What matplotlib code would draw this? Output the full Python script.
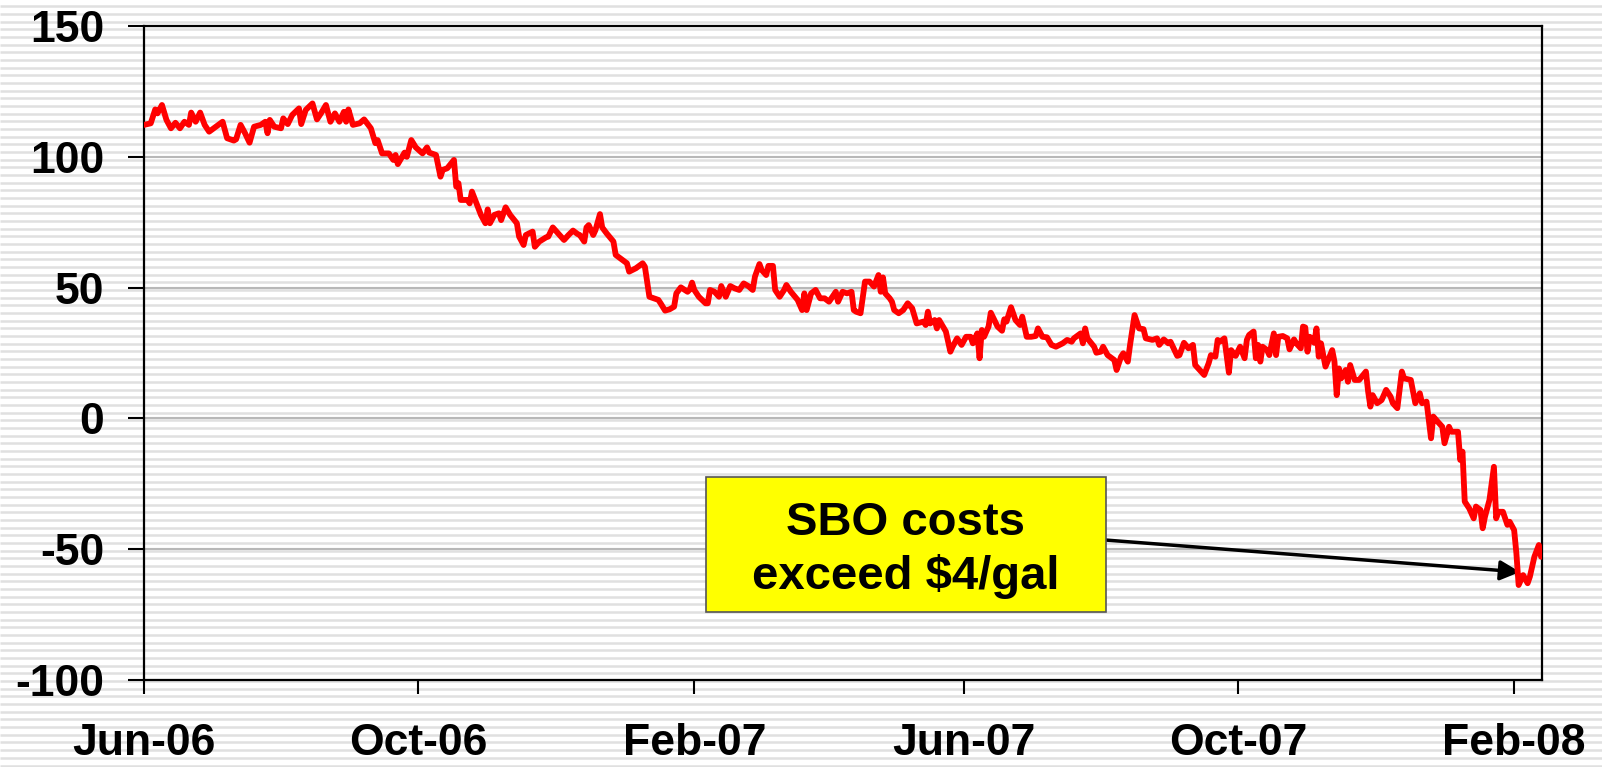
import numpy as np
import matplotlib
matplotlib.use('Agg')
from matplotlib import pyplot as plt
import matplotlib.dates as mdates
from matplotlib.patches import Rectangle

# days since 1 Jun 2006, spread value
days = [0, 3, 5, 6, 8, 10, 12, 14, 16, 18, 20, 21, 23, 25, 27, 29, 32, 35, 37, 40,
        41, 43, 45, 47, 49, 52, 54, 55, 56, 58, 61, 62, 64, 66, 69, 70, 72, 75, 77, 79,
        81, 83, 85, 87, 89, 90, 91, 93, 96, 98, 101, 103, 104, 106, 109, 111, 112, 113, 116, 117,
        119, 121, 124, 126, 127,
        130, 132, 133, 135, 138, 139, 140, 141, 144, 145, 146, 148, 150, 152, 153, 154, 156, 158, 159, 161,
        163, 166, 167, 169, 170, 173, 174, 176, 179, 180, 182, 185, 187, 189, 191, 193, 194, 196, 197, 198,
        200, 201, 203, 204, 206, 209, 210, 213, 215, 216, 219, 222, 223, 225, 227, 229, 230, 232, 234, 236,
        237, 239, 242, 243, 244, 245, 247,
        250, 251, 252, 254, 256, 257, 259, 261, 263, 265, 267, 269, 271, 272, 274, 275, 277, 278, 280, 281,
        283, 285, 286, 288, 291, 293, 294, 295, 297, 299, 301, 303, 305, 308, 309, 311, 313, 315, 316, 317,
        319, 321, 323, 325, 327, 328, 329, 330, 332, 333, 334, 336, 338, 340, 342, 344, 347, 348, 349, 350,
        352, 353, 354, 357, 359, 360, 362, 364, 366, 368, 369, 371, 372, 373,
        374, 376, 377, 380, 382, 383, 384, 386, 388, 390, 391, 393, 395, 397, 398, 400, 402, 404, 406, 409,
        411, 413, 414, 417, 418, 419, 420, 423, 424, 426, 427, 429, 432, 433, 435, 436, 438, 439, 441, 443,
        445, 446, 449, 451, 452, 454, 456, 457, 460, 461, 463, 465, 467, 468, 470, 472, 474, 475, 477, 478,
        479, 481, 483, 484, 486, 488, 490, 491, 492,
        494, 495, 496, 497, 498, 500, 501, 503, 504, 505, 507, 509, 510, 512, 513, 515, 516, 517, 518, 519,
        521, 522, 523, 524, 526, 529, 530, 531, 532, 533, 535, 536, 537, 539, 541, 544, 545, 546, 547, 549,
        551, 553, 555, 556, 558, 560, 561, 564, 566, 568, 569, 571, 573, 574, 576, 578, 579, 581, 582, 585,
        586, 587, 588, 590, 592, 593, 595, 596, 597, 599, 601, 602, 603, 605, 607, 608, 610, 611, 612, 614,
        616, 617, 619, 621, 622]
values = [112.2, 112.8, 118.1, 116.6, 119.8, 114.1, 110.9, 113.0, 110.9, 113.4, 112.2, 116.9, 113.4, 116.9, 112.2, 109.6, 111.5, 113.4, 107.1, 106.2,
          106.7, 112.2, 109.0, 105.4, 111.5, 112.2, 113.4, 109.0, 114.1, 111.5, 110.9, 114.7, 112.5, 116.0, 118.5, 112.5, 117.9, 120.4, 114.3, 116.9,
          119.8, 113.4, 116.6, 113.4, 117.2, 113.4, 118.1, 112.2, 112.8, 114.3, 110.9, 105.2, 106.4, 101.3, 101.3, 98.8, 100.7, 97.2, 101.6, 100.0,
          106.4, 103.6, 101.3, 103.6, 101.6,
          100.7, 92.4, 95.0, 95.6, 98.8, 88.6, 89.9, 83.5, 83.5, 82.2, 86.7, 82.2, 77.8, 74.6, 79.9, 74.6, 77.8, 78.4, 75.8, 80.7,
          77.8, 74.6, 69.5, 66.3, 70.1, 71.4, 65.6, 67.6, 69.2, 69.5, 73.0, 70.1, 68.2, 70.1, 71.8, 70.5, 70.1, 67.6, 73.0, 73.9,
          70.1, 72.0, 78.1, 73.0, 70.7, 67.6, 62.5, 60.6, 59.3, 56.1, 57.4, 59.3, 58.0, 46.5, 45.9, 45.3, 44.0, 41.2, 41.7, 42.7,
          47.8, 50.1, 48.4, 49.3, 51.9, 49.1, 46.5,
          44.0, 44.0, 49.1, 48.4, 46.5, 50.6, 46.5, 50.6, 49.7, 49.1, 51.6, 50.6, 49.1, 54.2, 59.0, 56.7, 54.8, 58.3, 58.3, 49.1,
          46.5, 49.1, 51.0, 48.4, 45.3, 41.4, 47.8, 41.4, 47.8, 49.1, 45.9, 45.9, 44.6, 48.4, 44.6, 48.4, 47.8, 48.4, 41.4, 40.8,
          40.2, 52.3, 52.3, 50.4, 54.8, 48.4, 53.9, 47.8, 45.9, 44.6, 41.4, 40.2, 41.4, 44.0, 42.1, 36.3, 37.0, 35.7, 40.8, 36.3,
          37.6, 34.4, 37.6, 33.2, 25.5, 27.4, 30.6, 28.1, 31.2, 31.2, 28.7, 32.5, 23.0, 33.8,
          31.2, 35.1, 40.4, 35.1, 33.5, 37.9, 37.0, 42.5, 37.6, 35.7, 38.9, 31.2, 31.2, 31.5, 34.4, 31.2, 31.0, 28.1, 27.4, 28.7,
          30.0, 29.3, 30.6, 32.5, 28.7, 34.4, 30.6, 27.4, 25.1, 25.5, 27.4, 24.2, 22.3, 18.5, 23.6, 24.9, 21.7, 28.1, 39.5, 34.4,
          34.1, 30.6, 30.0, 30.6, 28.1, 30.2, 28.7, 29.3, 23.9, 24.2, 28.9, 26.8, 28.1, 20.4, 18.5, 16.6, 21.1, 24.2, 23.6, 30.0,
          29.3, 30.6, 17.5, 26.1, 23.9, 27.4, 23.0, 30.0, 31.9,
          33.2, 23.0, 28.1, 21.7, 27.4, 26.1, 24.2, 32.5, 24.2, 31.2, 31.5, 30.6, 26.4, 30.2, 28.7, 26.8, 35.1, 34.8, 25.5, 31.2,
          28.9, 34.4, 23.6, 28.7, 19.8, 26.1, 21.7, 8.9, 19.1, 15.3, 18.5, 14.0, 20.4, 14.7, 14.7, 17.9, 10.2, 4.5, 8.9, 5.8,
          7.0, 10.9, 8.3, 5.8, 3.9, 17.9, 15.3, 14.7, 5.8, 9.6, 5.8, 6.4, -7.6, 0.7, -1.3, -3.2, -9.5, -3.2, -5.1, -5.1,
          -15.9, -12.7, -31.8, -34.4, -38.2, -33.7, -35.0, -42.0, -37.6, -31.2, -18.5, -38.2, -35.7, -35.7, -40.7, -39.5, -42.7, -51.6, -63.7, -59.9,
          -63.0, -60.5, -52.9, -48.4, -52.9]

start = np.datetime64('2006-06-01')
yticks = [-100, -50, 0, 50, 100, 150]
note = 'SBO costs\nexceed \\$4/gal'
note_day, note_val = 612.6, -58.7

plt.rcParams['font.family'] = ['Liberation Sans', 'DejaVu Sans']
plt.rcParams['font.weight'] = 'bold'
plt.rcParams['axes.unicode_minus'] = False

fig = plt.figure(figsize=(16.02, 7.67), dpi=100)
fig.patch.set_facecolor('white')

# striped background
bg = fig.add_axes([0, 0, 1, 1])
bg.set_xlim(0, 1)
bg.set_ylim(0, 767)
bg.hlines(np.arange(1.5, 767, 7.67), 0, 1, color='#e0e0e0', lw=1.8)
bg.axis('off')

ax = fig.add_axes([144/1602, 1-680/767, 1398/1602, 654/767])
ax.set_facecolor('none')

x = mdates.date2num(start + np.array(days).astype('timedelta64[D]'))
x0 = mdates.date2num(start)
ax.plot(x, values, color='#ff0000', lw=4.2, solid_joinstyle='round',
        solid_capstyle='round', zorder=4)

ax.set_xlim(x0, x0 + 622.4)
ax.set_ylim(-100, 150)
ax.set_yticks(yticks)
ax.xaxis.set_major_locator(mdates.MonthLocator(bymonth=[2, 6, 10]))
ax.xaxis.set_major_formatter(mdates.DateFormatter('%b-%y'))

ax.yaxis.grid(True, color='#b8b8b8', lw=1.5)
ax.set_axisbelow(True)
for s in ax.spines.values():
    s.set_color('black')
    s.set_linewidth(1.6)
ax.tick_params(axis='y', direction='out', length=11.5, width=1.5, pad=17, labelsize=32)
ax.tick_params(axis='x', direction='out', length=10, width=1.5, pad=21, labelsize=32)
for lab in ax.get_xticklabels() + ax.get_yticklabels():
    lab.set_fontweight('bold')

# annotation box + arrow
ax.add_patch(Rectangle((0.402, 0.104), 0.286, 0.206, transform=ax.transAxes,
                       facecolor='#ffff00', edgecolor='#555555', lw=1.2, zorder=6))
ax.text(0.545, 0.199, note, transform=ax.transAxes, ha='center', va='center',
        fontsize=34, fontweight='bold', linespacing=1.25, zorder=7)
ax.annotate('', xy=(x0 + note_day, note_val), xycoords='data',
            xytext=(0.688, 0.214), textcoords='axes fraction',
            arrowprops=dict(arrowstyle='-|>', color='black', lw=2.5,
                            mutation_scale=30, shrinkA=0, shrinkB=0), zorder=3)

plt.savefig('out.png', dpi=100)
